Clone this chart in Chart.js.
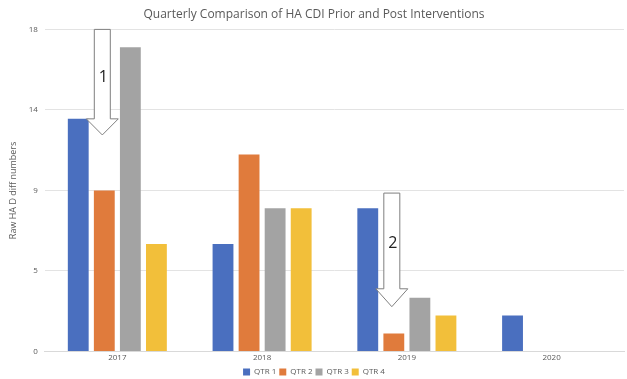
<!DOCTYPE html>
<html>
<head>
<meta charset="utf-8">
<script src="https://cdn.jsdelivr.net/npm/chart.js@4.4.0/dist/chart.umd.min.js"></script>
<style>
  html, body { margin: 0; padding: 0; background: #fff; }
  #wrap { width: 627px; height: 379px; }
</style>
</head>
<body>
<div id="wrap"><canvas id="myChart"></canvas></div>
<script>
// Data
var years = ["2017", "2018", "2019", "2020"];
var qtr1 = [13, 6, 8, 2];
var qtr2 = [9, 11, 1, 0];
var qtr3 = [17, 8, 3, 0];
var qtr4 = [6, 8, 2, 0];
var yTickLabels = ["0", "5", "9", "14", "18"];

// Arrow callouts (category index, value at top, head base, tip)
var arrowText = ["1", "2"];
var arrowYear = [0, 2];
var arrowTop = [18, 8.85];
var arrowBase = [13, 3.5];
var arrowTip = [12.1, 2.5];

// draws the white callout arrows on top of the bars
var arrowPlugin = {
    id: "arrows",
    afterDatasetsDraw: function(chart) {
        var ctx = chart.ctx;
        var y = chart.scales.y;
        var meta = chart.getDatasetMeta(1);
        for (var i = 0; i < arrowText.length; i++) {
            var cx = meta.data[arrowYear[i]].x - 2;
            var yTop = y.getPixelForValue(arrowTop[i]);
            var yBase = y.getPixelForValue(arrowBase[i]);
            var yTip = y.getPixelForValue(arrowTip[i]);
            ctx.save();
            ctx.beginPath();
            ctx.moveTo(cx - 8, yTop);
            ctx.lineTo(cx + 8, yTop);
            ctx.lineTo(cx + 8, yBase);
            ctx.lineTo(cx + 16, yBase);
            ctx.lineTo(cx, yTip);
            ctx.lineTo(cx - 16, yBase);
            ctx.lineTo(cx - 8, yBase);
            ctx.closePath();
            ctx.fillStyle = "#ffffff";
            ctx.fill();
            ctx.strokeStyle = "#7f7f7f";
            ctx.lineWidth = 1;
            ctx.stroke();
            ctx.fillStyle = "#222222";
            ctx.font = "16px 'Open Sans', sans-serif";
            ctx.textAlign = "center";
            ctx.textBaseline = "middle";
            ctx.fillText(arrowText[i], cx + 1, (yTop + yBase) / 2 + 3);
            ctx.restore();
        }
    }
};

var ctx = document.getElementById("myChart").getContext("2d");

new Chart(ctx, {
    type: "bar",
    data: {
        labels: years,
        datasets: [
            { label: "QTR 1", data: qtr1, backgroundColor: "#4a6fbf" },
            { label: "QTR 2", data: qtr2, backgroundColor: "#e07b3c" },
            { label: "QTR 3", data: qtr3, backgroundColor: "#a3a3a3" },
            { label: "QTR 4", data: qtr4, backgroundColor: "#f2bf3a" }
        ]
    },
    options: {
        responsive: true,
        maintainAspectRatio: false,
        animation: false,
        categoryPercentage: 0.72,
        barPercentage: 0.8,
        layout: { padding: { left: 4, right: 3, top: 3, bottom: -7 } },
        plugins: {
            title: {
                display: true,
                text: "Quarterly Comparison of HA CDI Prior and Post Interventions",
                color: "#595959",
                font: { family: "'Open Sans', sans-serif", size: 12, weight: "normal" },
                padding: { top: 4, bottom: 8 }
            },
            legend: {
                position: "bottom",
                labels: {
                    boxWidth: 7,
                    boxHeight: 7,
                    padding: 3,
                    color: "#595959",
                    font: { family: "'Open Sans', sans-serif", size: 8 }
                }
            },
            tooltip: { enabled: false }
        },
        scales: {
            x: {
                grid: { display: false, drawTicks: false },
                border: { color: "#d9d9d9" },
                ticks: {
                    color: "#595959",
                    padding: 2,
                    font: { family: "'Open Sans', sans-serif", size: 8 }
                }
            },
            y: {
                min: 0,
                max: 18,
                grid: { color: "#e3e3e3", drawTicks: false },
                border: { display: false },
                ticks: {
                    stepSize: 4.5,
                    color: "#595959",
                    padding: 7,
                    font: { family: "'Open Sans', sans-serif", size: 8 },
                    callback: function(value, index) { return yTickLabels[index]; }
                },
                title: {
                    display: true,
                    text: "Raw HA D diff numbers",
                    color: "#595959",
                    padding: { top: 4, bottom: 3 },
                    font: { family: "'Open Sans', sans-serif", size: 9 }
                }
            }
        }
    },
    plugins: [arrowPlugin]
});
</script>
</body>
</html>
